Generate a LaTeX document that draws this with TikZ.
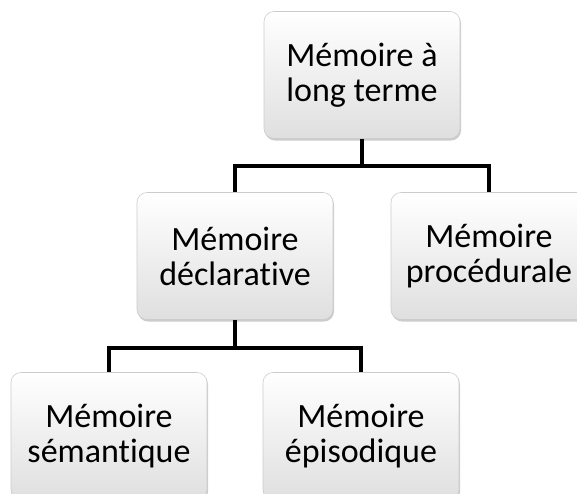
\documentclass[tikz,border=0pt]{standalone}
\usepackage{fontspec}
\setmainfont{Carlito}[Ligatures={NoCommon}]
\usetikzlibrary{positioning}
\usetikzlibrary{shadows}

\begin{document}
\begin{tikzpicture}[line width=4pt,node distance=181pt and 127pt,on grid,
					font=\fontsize{34}{35}\selectfont]
					\tikzstyle{every node}=[rectangle,rounded corners=10pt,draw=gray!40,line width=0.6pt,
					top color=white,bottom color=gray!25,minimum width=196pt,minimum height=127pt,
					align=center,drop shadow={shadow xshift=1pt,shadow yshift=-2pt,opacity=0.4}]
					
					\useasboundingbox (0,0) rectangle (577pt,-493pt);
					\clip (0,0) rectangle (577pt,-493pt);
					
					\node         (LT) at (362pt,-75pt)          {Mémoire à\\long terme};
					\node         (MD) [below left=of LT]        {Mémoire\\déclarative};
					\node         (MP) [below right=of LT]       {Mémoire\\procédurale};
					\node         (MS) [below left=180pt and 126pt of MD]   {Mémoire\\sémantique};
					\node         (ME) [below right=180pt and 126pt of MD]  {Mémoire\\épisodique};
					
					
					
					\draw (LT.south) -- ++(0,-27pt) -| (MD.north)
					(LT.south) -- ++(0,-27pt) -| (MP.north)
					(MD.south) -- ++(0,-28pt) -| (MS.north)
					(MD.south) -- ++(0,-28pt) -| (ME.north)
					
					
					;
					\end{tikzpicture}
\end{document}
